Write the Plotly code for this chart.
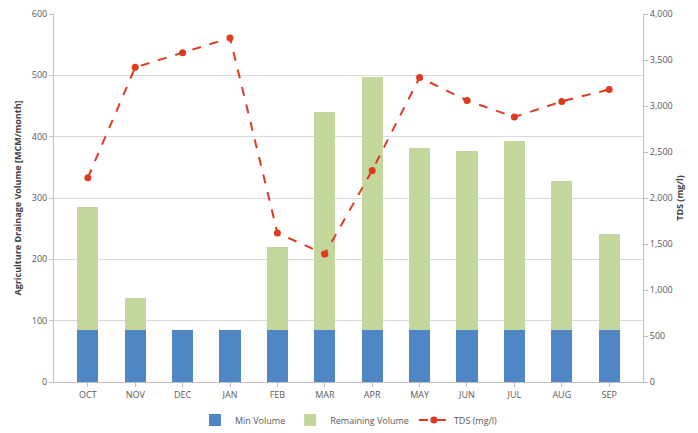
import plotly.graph_objects as go

months = ["OCT", "NOV", "DEC", "JAN", "FEB", "MAR", "APR", "MAY", "JUN", "JUL", "AUG", "SEP"]
min_volume = [84, 84, 84, 84, 84, 84, 84, 84, 84, 84, 84, 84]
remaining_volume = [201, 53, 0, 0, 136, 356, 413, 297, 292, 309, 244, 157]
tds = [2220, 3420, 3580, 3740, 1620, 1390, 2300, 3310, 3060, 2880, 3050, 3180]

font = "Open Sans, Liberation Sans, sans-serif"
grey = "#595959"

fig = go.Figure()
fig.add_trace(go.Bar(x=months, y=min_volume, name="Min Volume",
                     marker=dict(color="#4f86c6", line=dict(width=0)), width=0.45))
fig.add_trace(go.Bar(x=months, y=remaining_volume, name="Remaining Volume",
                     marker=dict(color="#c3d69b", line=dict(width=0)), width=0.45))
fig.add_trace(go.Scatter(x=months, y=tds, name="TDS (mg/l)", yaxis="y2",
                         mode="lines+markers",
                         line=dict(color="#e03a1e", width=2, dash="dash"),
                         marker=dict(color="#e03a1e", size=7)))

fig.update_layout(
    width=698, height=433,
    barmode="stack",
    plot_bgcolor="white", paper_bgcolor="white",
    margin=dict(l=54, r=55, t=14, b=51, autoexpand=False),
    font=dict(family=font, size=9, color=grey),
    xaxis=dict(showline=True, linecolor="#bfbfbf", ticks="outside", tickcolor="#bfbfbf",
               ticklen=4, tickfont=dict(size=9, color=grey)),
    yaxis=dict(range=[0, 600], dtick=100, showgrid=True, gridcolor="#d9d9d9",
               showline=True, linecolor="#bfbfbf", ticks="outside", tickcolor="#bfbfbf",
               ticklen=4, zeroline=False,
               title=dict(text="<b>Agriculture Drainage Volume [MCM/month]</b>",
                          font=dict(size=9, color="#404040"), standoff=8)),
    yaxis2=dict(range=[0, 4000], dtick=500, overlaying="y", side="right",
                showgrid=False, showline=True, linecolor="#bfbfbf", ticks="outside",
                tickcolor="#bfbfbf", ticklen=4, tickformat=",", zeroline=False,
                title=dict(text="<b>TDS (mg/l)</b>", font=dict(size=9, color="#404040"), standoff=4)),
    legend=dict(orientation="h", x=0.5, xanchor="center", xref="container",
                y=0.03, yanchor="middle", yref="container",
                font=dict(size=9, color=grey), traceorder="normal"),
)

fig.write_html("out.html")
